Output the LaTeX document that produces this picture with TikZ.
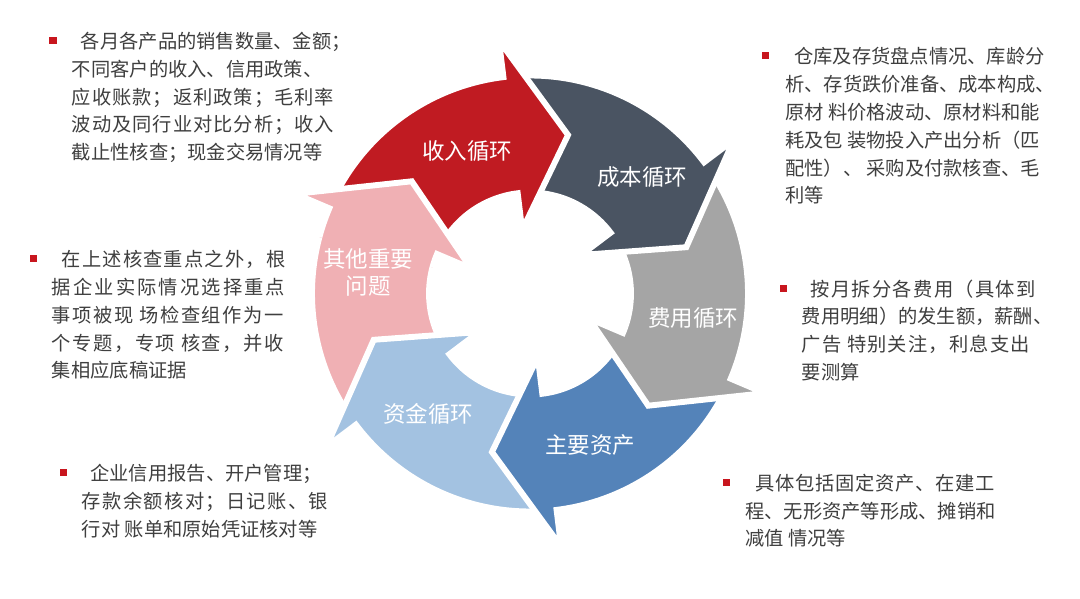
\documentclass[tikz,border=0pt]{standalone}
\usepackage{fontspec}
\setmainfont{Noto Sans CJK SC}
\usetikzlibrary{positioning}

\definecolor{cycred}{HTML}{C01B22}
\definecolor{cycslate}{HTML}{4A5462}
\definecolor{cycgray}{HTML}{A5A5A5}
\definecolor{cycblue}{HTML}{5483B9}
\definecolor{cyclight}{HTML}{A3C2E1}
\definecolor{cycpink}{HTML}{F0B0B4}
\definecolor{notegray}{HTML}{3F3F3F}
\definecolor{bulletred}{HTML}{C8161E}

% spread one line of a note a little
\newcommand{\sprd}[2]{{\addfontfeatures{LetterSpace=#1}#2}}
% one bent arrow of the cycle, #1 = angle of the head base
\newcommand{\cycarrow}[2]{%
  \filldraw[arrowband, fill=#2] (#1+54:218) arc[start angle=#1+54, end angle=#1, radius=218]
    -- (#1:255) -- (#1-20.5:163) -- (#1:64) -- (#1:101)
    arc[start angle=#1, end angle=#1+54, radius=101] -- cycle;}

\tikzset{
  arrowband/.style={draw=white, line width=4.2pt, line join=miter},
  cyclabel/.style={text=white, align=center, inner sep=0pt, font=\fontsize{16}{19.2}\selectfont},
  note/.style={anchor=north west, inner sep=0pt, text=notegray, align=left, font=\fontsize{13.7}{19.8}\selectfont},
  bulletsq/.style={fill=bulletred, minimum size=0.175cm, inner sep=0pt}
}

\begin{document}
\begin{tikzpicture}[x=0.025cm, y=0.025cm]
  \path[fill=white] (0,0) rectangle (1080,599);
  \useasboundingbox (0,0) rectangle (1080,599);

  % the six arrows
  \begin{scope}[shift={(530,305.5)}]
    \foreach \b/\c in {-203/cycpink, -143/cyclight, -83/cycblue, -23/cycgray, 37/cycslate, 97/cycred}
      {\cycarrow{\b}{\c}}
    % pink head again, over the red tail
    \begin{scope}
      \clip (0,0) -- (125:300) arc[start angle=125, end angle=165, radius=300] -- cycle;
      \cycarrow{-203}{cycpink}
    \end{scope}
  \end{scope}

  \node[cyclabel] (lshouru) at (467,447.5) {收入循环};
  \node[cyclabel] (lchengben) at (642,422) {成本循环};
  \node[cyclabel] (lfeiyong) at (693,281) {费用循环};
  \node[cyclabel] (lzichan) at (590,154) {主要资产};
  \node[cyclabel] (lzijin) at (428,185) {资金循环};
  \node[cyclabel] (lqita) at (368,327) {其他重要\\问题};

  % notes
  \node[note] (nshouru) at (71.7,567.3) {\hspace*{6.4pt}各月各产品的销售数量、金额；\\不同客户的收入、信用政策、\\\sprd{5}{应收账款；返利政策；毛利率}\\\sprd{5}{波动及同行业对比分析；收入}\\截止性核查；现金交易情况等};
  \node[bulletsq] (bshouru) at (53,558) {};

  \node[note] (nchengben) at (785,552) {\hspace*{6.4pt}仓库及存货盘点情况、库龄分\\析、存货跌价准备、成本构成、\\原材 料价格波动、原材料和能\\耗及包 装物投入产出分析（匹\\配性）、 采购及付款核查、毛\\利等};
  \node[bulletsq] (bchengben) at (765,543) {};

  \node[note] (nqita) at (51.7,349) {\hspace*{7pt}\sprd{6}{在上述核查重点之外，根}\\\sprd{11}{据企业实际情况选择重点}\\\sprd{8}{事项被现 场检查组作为一}\\\sprd{8}{个专题，专项 核查，并收}\\集相应底稿证据};
  \node[bulletsq] (bqita) at (33.3,340) {};

  \node[note] (nfeiyong) at (801.7,319.7) {\hspace*{6pt}\sprd{7}{按月拆分各费用（具体到}\\费用明细）的发生额，薪酬、\\\sprd{6}{广告 特别关注，利息支出}\\要测算};
  \node[bulletsq] (bfeiyong) at (783.3,310.7) {};

  \node[note] (nzijin) at (81.7,135.3) {\hspace*{6pt}企业信用报告、开户管理；\\\sprd{7}{存款余额核对；日记账、银}\\行对 账单和原始凭证核对等};
  \node[bulletsq] (bzijin) at (63.3,126.3) {};

  \node[note] (nzichan) at (745,125.3) {\hspace*{7pt}\sprd{4}{具体包括固定资产、在建工}\\程、无形资产等形成、摊销和\\减值 情况等};
  \node[bulletsq] (bzichan) at (726,116.3) {};
\end{tikzpicture}
\end{document}
